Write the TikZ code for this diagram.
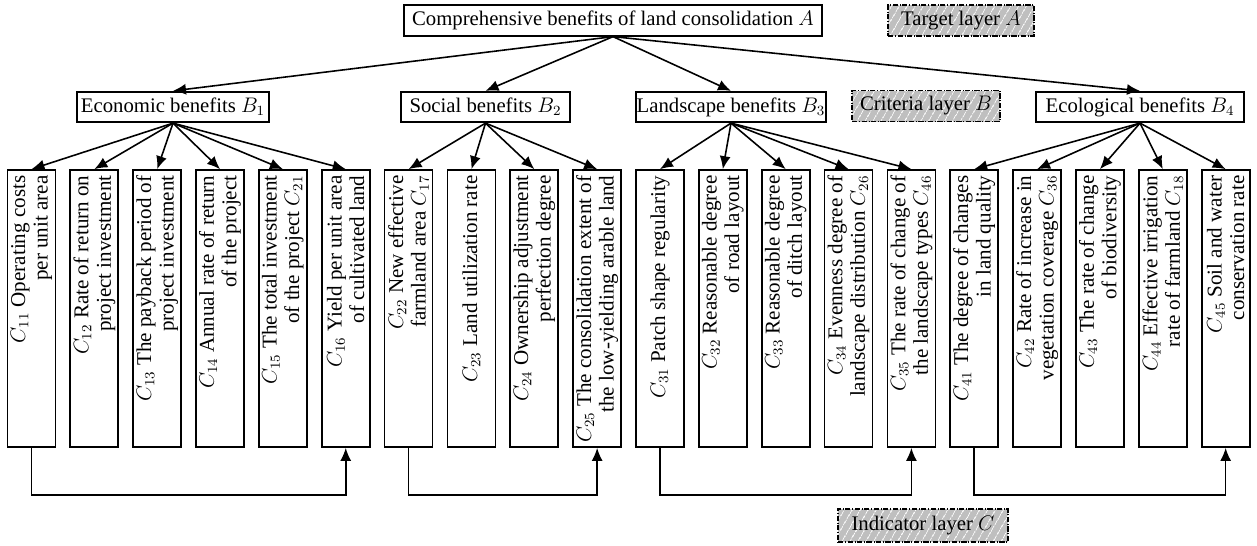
\documentclass[tikz,border=0pt]{standalone}
\usepackage{fontspec}
\setmainfont{Liberation Serif}
\usetikzlibrary{arrows.meta,patterns.meta}
\begin{document}
\begin{tikzpicture}[x=0.02cm,y=-0.02cm,
 box/.style={draw,line width=1pt,inner sep=0pt,minimum height=0.61cm,font=\fontsize{11.8}{13}\selectfont},
 layer/.style={draw,densely dashdotted,line width=0.9pt,inner sep=0pt,minimum height=0.62cm,
  preaction={fill=gray!50},pattern={Lines[angle=60,distance=4pt,line width=0.5pt]},pattern color=white,
  font=\fontsize{11.8}{13}\selectfont},
 cbox/.style={draw,line width=1pt,inner sep=0pt,minimum width=0.96cm,minimum height=5.54cm},
 ctext/.style={rotate=90,anchor=east,align=right,inner sep=0pt,font=\fontsize{12}{12.8}\selectfont},
 arr/.style={line width=0.9pt,-{Latex[length=2.6mm,width=2.2mm]}}]
 \useasboundingbox (0,0) rectangle (1257,545);
 \node[box,minimum width=8.36cm] (A) at (613,20.5) {Comprehensive benefits of land consolidation $A$};
 \node[layer,minimum width=2.92cm] (la) at (961,20.5) {Target layer $A$};
 \node[box,minimum width=3.84cm] (B1) at (173,107) {Economic benefits $B_1$};
 \node[box,minimum width=3.38cm] (B2) at (485.5,107) {Social benefits $B_2$};
 \node[box,minimum width=3.8cm] (B3) at (731,107) {Landscape benefits $B_3$};
 \node[layer,minimum width=2.96cm] (lb) at (926,106) {Criteria layer $B$};
 \node[box,minimum width=4.16cm] (B4) at (1140,107) {Ecological benefits $B_4$};
 \node[layer,minimum width=3.4cm,minimum height=0.66cm] (lc) at (923,525.5) {Indicator layer $C$};
 \node[cbox] (c11) at (31.5,308.5) {};
 \node[cbox] (c12) at (94.35,308.5) {};
 \node[cbox] (c13) at (157.2,308.5) {};
 \node[cbox] (c14) at (220.05,308.5) {};
 \node[cbox] (c15) at (282.9,308.5) {};
 \node[cbox] (c16) at (345.75,308.5) {};
 \node[cbox] (c22) at (408.6,308.5) {};
 \node[cbox] (c23) at (471.45,308.5) {};
 \node[cbox] (c24) at (534.3,308.5) {};
 \node[cbox] (c25) at (597.15,308.5) {};
 \node[cbox] (c31) at (660,308.5) {};
 \node[cbox] (c32) at (722.85,308.5) {};
 \node[cbox] (c33) at (785.7,308.5) {};
 \node[cbox] (c34) at (848.55,308.5) {};
 \node[cbox] (c35) at (911.4,308.5) {};
 \node[cbox] (c41) at (974.25,308.5) {};
 \node[cbox] (c42) at (1037.1,308.5) {};
 \node[cbox] (c43) at (1099.95,308.5) {};
 \node[cbox] (c44) at (1162.8,308.5) {};
 \node[cbox] (c45) at (1225.65,308.5) {};
 \node[ctext] (t11) at ([yshift=-0.12cm]c11.north) {$C_{11}$ Operating costs\\per unit area};
 \node[ctext] (t12) at ([yshift=-0.12cm]c12.north) {$C_{12}$ Rate of return on\\project investment};
 \node[ctext] (t13) at ([yshift=-0.12cm]c13.north) {$C_{13}$ The payback period of\\project investment};
 \node[ctext] (t14) at ([yshift=-0.12cm]c14.north) {$C_{14}$ Annual rate of return\\of the project};
 \node[ctext] (t15) at ([yshift=-0.12cm]c15.north) {$C_{15}$ The total investment\\of the project $C_{21}$};
 \node[ctext] (t16) at ([yshift=-0.12cm]c16.north) {$C_{16}$ Yield per unit area\\of cultivated land};
 \node[ctext] (t22) at ([yshift=-0.12cm]c22.north) {$C_{22}$ New effective\\farmland area $C_{17}$};
 \node[ctext] (t23) at ([yshift=-0.12cm]c23.north) {$C_{23}$ Land utilization rate};
 \node[ctext] (t24) at ([yshift=-0.12cm]c24.north) {$C_{24}$ Ownership adjustment\\perfection degree};
 \node[ctext] (t25) at ([yshift=-0.12cm]c25.north) {$C_{25}$ The consolidation extent of\\the low-yielding arable land};
 \node[ctext] (t31) at ([yshift=-0.12cm]c31.north) {$C_{31}$ Patch shape regularity};
 \node[ctext] (t32) at ([yshift=-0.12cm]c32.north) {$C_{32}$ Reasonable degree\\of road layout};
 \node[ctext] (t33) at ([yshift=-0.12cm]c33.north) {$C_{33}$ Reasonable degree\\of ditch layout};
 \node[ctext] (t34) at ([yshift=-0.12cm]c34.north) {$C_{34}$ Evenness degree of\\landscape distribution $C_{26}$};
 \node[ctext] (t35) at ([yshift=-0.12cm]c35.north) {$C_{35}$ The rate of change of\\the landscape types $C_{46}$};
 \node[ctext] (t41) at ([yshift=-0.12cm]c41.north) {$C_{41}$ The degree of changes\\in land quality};
 \node[ctext] (t42) at ([yshift=-0.12cm]c42.north) {$C_{42}$ Rate of increase in\\vegetation coverage $C_{36}$};
 \node[ctext] (t43) at ([yshift=-0.12cm]c43.north) {$C_{43}$ The rate of change\\of biodiversity};
 \node[ctext] (t44) at ([yshift=-0.12cm]c44.north) {$C_{44}$ Effective irrigation\\rate of farmland $C_{18}$};
 \node[ctext] (t45) at ([yshift=-0.12cm]c45.north) {$C_{45}$ Soil and water\\conservation rate};
 \draw[arr] (A.south) -- (B1.north);
 \draw[arr] (A.south) -- (B2.north);
 \draw[arr] (A.south) -- (B3.north);
 \draw[arr] (A.south) -- (B4.north);
 \draw[arr] (B1.south) -- (c11.north);
 \draw[arr] (B1.south) -- (c12.north);
 \draw[arr] (B1.south) -- (c13.north);
 \draw[arr] (B1.south) -- (c14.north);
 \draw[arr] (B1.south) -- (c15.north);
 \draw[arr] (B1.south) -- (c16.north);
 \draw[arr] (B2.south) -- (c22.north);
 \draw[arr] (B2.south) -- (c23.north);
 \draw[arr] (B2.south) -- (c24.north);
 \draw[arr] (B2.south) -- (c25.north);
 \draw[arr] (B3.south) -- (c31.north);
 \draw[arr] (B3.south) -- (c32.north);
 \draw[arr] (B3.south) -- (c33.north);
 \draw[arr] (B3.south) -- (c34.north);
 \draw[arr] (B3.south) -- (c35.north);
 \draw[arr] (B4.south) -- (c41.north);
 \draw[arr] (B4.south) -- (c42.north);
 \draw[arr] (B4.south) -- (c43.north);
 \draw[arr] (B4.south) -- (c44.north);
 \draw[arr] (B4.south) -- (c45.north);
 \draw[arr] (c11.south) -- ++(0,47) -| (c16.south);
 \draw[arr] (c22.south) -- ++(0,47) -| (c25.south);
 \draw[arr] (c31.south) -- ++(0,47) -| (c35.south);
 \draw[arr] (c41.south) -- ++(0,47) -| (c45.south);
\end{tikzpicture}
\end{document}
